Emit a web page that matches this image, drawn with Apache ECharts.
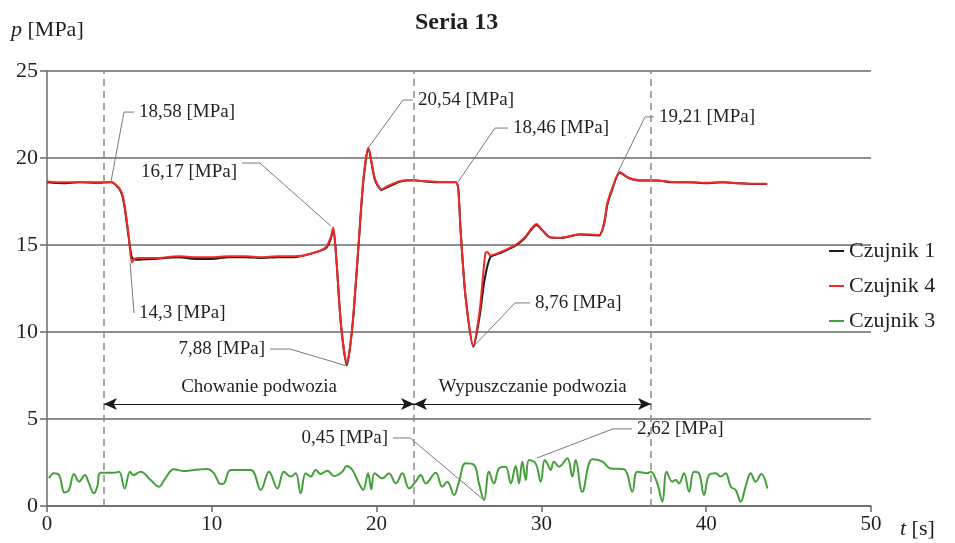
<!DOCTYPE html>
<html>
<head>
<meta charset="utf-8">
<script src="https://cdn.jsdelivr.net/npm/echarts@6/dist/echarts.min.js"></script>
<style>
  html, body { margin: 0; padding: 0; background: #fff; }
  #chart { width: 955px; height: 543px; }
</style>
</head>
<body>
<div id="chart"></div>
<script>
// Czujnik 1 (black)
const t1 = [0,1,2,3,3.9,4.4,4.65,4.95,5.15,5.4,6.5,8,9,10,11,12,13,14,15,16,16.9,17.2,17.37,17.55,17.85,18.2,18.4,18.6,18.9,19.2,19.5,19.9,20.3,20.6,21.4,22.2,23,24,24.8,24.95,25.1,25.4,25.87,26.25,26.55,26.9,27.4,27.9,28.5,29.0,29.7,30.1,30.5,31.2,32.3,33.5,33.8,34.0,34.3,34.75,35.3,36,37,38,39,40,41,42,43,43.7]
const p1 = [18.6,18.55,18.6,18.58,18.6,18.2,17.5,15.5,14.3,14.15,14.2,14.3,14.2,14.2,14.3,14.3,14.25,14.3,14.3,14.5,14.8,15.3,15.95,14.3,10.3,8.1,9.2,11,14.9,18.7,20.55,18.74,18.16,18.3,18.64,18.72,18.65,18.6,18.6,18.3,15.8,12,9.15,10.9,13,14.3,14.5,14.7,15.0,15.4,16.15,15.8,15.45,15.4,15.6,15.55,16.2,17.3,18.2,19.15,18.85,18.7,18.7,18.6,18.6,18.55,18.6,18.55,18.5,18.5]

// Czujnik 4 (red)
const t4 = [0,1,2,3,3.9,4.4,4.65,4.95,5.15,5.3,5.6,6.5,8,9,10,11,12,13,14,15,16,16.9,17.2,17.37,17.55,17.85,18.2,18.4,18.6,18.9,19.2,19.5,19.9,20.3,20.6,21.4,22.2,23,24,24.8,24.95,25.1,25.4,25.87,26.25,26.6,26.72,26.9,27.4,27.9,28.5,29.0,29.7,30.1,30.5,31.2,32.3,33.5,33.8,34.0,34.3,34.75,35.3,36,37,38,39,40,41,42,43,43.7]
const p4 = [18.65,18.6,18.62,18.6,18.62,18.25,17.6,15.6,14.0,14.2,14.25,14.25,14.35,14.3,14.3,14.35,14.35,14.3,14.35,14.35,14.5,14.85,15.4,16.0,14.3,10.3,8.2,9.2,11.1,15,18.8,20.6,18.8,18.2,18.35,18.66,18.72,18.66,18.62,18.62,18.3,15.8,12,9.2,11.2,14.55,14.6,14.4,14.55,14.75,15.05,15.45,16.2,15.8,15.45,15.42,15.62,15.58,16.25,17.4,18.25,19.2,18.85,18.72,18.7,18.62,18.6,18.58,18.6,18.55,18.52,18.52]

// Czujnik 3 (green) [t, p]
const czujnik3 = [
  [0.12,1.59],[0.42,1.88],[0.73,1.78],[1.07,0.77],[1.33,0.92],[1.64,1.84],[1.94,1.40],[2.29,1.78],[2.55,1.30],[2.85,0.73],
  [3.05,1.11],[3.26,1.91],[4.07,1.91],[4.37,1.97],[4.71,1.01],[5.04,1.97],[5.24,1.78],[5.68,1.97],[6.29,1.49],[6.80,1.11],
  [7.15,1.55],[7.71,2.11],[8.31,2.01],[8.92,2.07],[9.73,2.13],[10.13,1.88],[10.54,1.26],[10.74,1.30],[11.15,2.07],[12.36,2.07],
  [12.97,0.92],[13.47,1.97],[13.98,1.01],[14.38,1.97],[14.79,1.69],[15.09,1.88],[15.39,0.73],[15.70,1.88],[16.0,1.69],[16.3,2.07],
  [16.61,1.84],[17.01,2.03],[17.42,1.72],[17.92,1.97],[18.18,2.30],[18.53,2.07],[18.93,1.30],[19.19,0.92],[19.48,1.88],[19.68,0.96],
  [19.88,1.88],[20.35,1.59],[20.75,1.88],[21.16,1.30],[21.56,1.88],[21.97,1.01],[22.37,1.40],[22.68,1.78],[22.98,1.30],[23.59,1.91],
  [23.99,1.11],[24.29,1.40],[24.70,0.63],[25.0,1.40],[25.40,2.45],[25.91,2.36],[26.21,1.30],[26.52,0.34],[26.82,1.97],[27.12,1.30],
  [27.43,2.16],[27.83,2.26],[28.14,1.30],[28.44,2.30],[28.64,1.30],[28.84,2.55],[29.05,1.50],[29.25,2.64],[29.65,2.45],[29.96,1.40],
  [30.20,2.64],[30.40,2.36],[30.56,2.07],[30.76,2.55],[31.07,2.26],[31.57,2.74],[31.88,1.69],[32.08,2.64],[32.48,0.82],[33.09,2.68],
  [33.70,2.55],[34.20,2.16],[35.01,2.11],[35.52,0.82],[35.82,1.97],[36.43,1.88],[36.63,1.97],[37.03,1.30],[37.34,0.25],[37.60,1.97],
  [37.94,1.40],[38.15,1.49],[38.35,1.30],[38.65,1.88],[38.96,0.82],[39.26,1.97],[39.56,1.88],[39.87,0.63],[40.17,1.78],[40.58,1.88],
  [40.88,1.69],[41.18,1.88],[41.49,1.11],[41.79,0.92],[42.09,0.25],[42.39,1.11],[42.70,1.88],[43.0,1.40],[43.34,1.84],[43.71,1.01]
]

const xTicks = [0, 10, 20, 30, 40, 50]
const yTicks = [0, 5, 10, 15, 20, 25]

// phase boundaries [s]
const phaseTimes = [3.46, 22.27, 36.65]
const phaseNames = ['Chowanie podwozia', 'Wypuszczanie podwozia']

// callouts: value text, curve point, elbow, line end (data coords)
const notes = [
  { text: '18,58 [MPa]', pts: [[3.88, 18.62], [4.67, 22.64], [5.28, 22.64]], side: 'right' },
  { text: '16,17 [MPa]', pts: [[17.23, 16.09], [12.92, 19.71], [11.83, 19.71]], side: 'left', dy: 9 },
  { text: '20,54 [MPa]', pts: [[19.48, 20.57], [21.6, 23.33], [22.21, 23.33]], side: 'right' },
  { text: '18,46 [MPa]', pts: [[24.94, 18.62], [27.18, 21.72], [27.97, 21.72]], side: 'right' },
  { text: '19,21 [MPa]', pts: [[34.65, 19.2], [36.29, 22.36], [36.83, 22.36]], side: 'right' },
  { text: '14,3 [MPa]', pts: [[5.04, 13.97], [5.28, 11.09], [5.28, 11.09]], side: 'right' },
  { text: '7,88 [MPa]', pts: [[18.2, 8.05], [14.75, 9.02], [13.53, 9.02]], side: 'left' },
  { text: '8,76 [MPa]', pts: [[25.85, 9.14], [28.4, 11.67], [29.31, 11.67]], side: 'right' },
  { text: '0,45 [MPa]', pts: [[26.52, 0.34], [22.03, 3.91], [21.0, 3.91]], side: 'left' },
  { text: '2,62 [MPa]', pts: [[29.73, 2.76], [34.34, 4.43], [35.5, 4.43]], side: 'right' }
]

const FONT = 'Liberation Serif'
const TXT = '#231f20'
const GRID_COLOR = '#6a6a6a'

function zip(ts, ps) {
  return ts.map((t, i) => [t, ps[i]])
}

function noteSeries(note) {
  const last = note.pts.length - 1
  return {
    type: 'line',
    silent: true,
    symbol: 'circle',
    symbolSize: 0,
    showSymbol: true,
    z: 1,
    animation: false,
    lineStyle: { color: '#7a7a7a', width: 1 },
    data: note.pts.map((p, i) => {
      if (i !== last) return { value: p }
      return {
        value: p,
        label: {
          show: true,
          position: note.side,
          distance: 5,
          offset: [0, note.dy || 0],
          formatter: note.text,
          color: TXT,
          fontFamily: FONT,
          fontSize: 19
        }
      }
    })
  }
}

function getOption() {
  const series = [
    {
      name: 'Czujnik 1',
      type: 'line',
      data: zip(t1, p1),
      showSymbol: false,
      smooth: 0.25,
      color: '#1a1a1a',
      lineStyle: { width: 2 },
      z: 3
    },
    {
      name: 'Czujnik 4',
      type: 'line',
      data: zip(t4, p4),
      showSymbol: false,
      smooth: 0.25,
      color: '#ee2b26',
      lineStyle: { width: 2 },
      z: 4
    },
    {
      name: 'Czujnik 3',
      type: 'line',
      data: czujnik3,
      showSymbol: false,
      smooth: 0.4,
      color: '#43a03a',
      lineStyle: { width: 2 },
      z: 3
    },
    {
      type: 'line',
      data: [],
      silent: true,
      markLine: {
        silent: true,
        symbol: ['none', 'none'],
        animation: false,
        label: { show: false },
        lineStyle: { color: '#8a8a8a', type: [7, 5], width: 1.5 },
        data: phaseTimes.map(t => ({ xAxis: t }))
      }
    },
    {
      type: 'line',
      data: [],
      silent: true,
      markLine: {
        silent: true,
        symbol: ['arrow', 'arrow'],
        symbolSize: [9, 13],
        animation: false,
        lineStyle: { color: '#1a1a1a', type: 'solid', width: 1 },
        label: {
          show: true,
          position: 'middle',
          distance: 8,
          color: TXT,
          fontFamily: FONT,
          fontSize: 19
        },
        data: phaseNames.map((name, i) => [
          { coord: [phaseTimes[i], 5.86], name: name },
          { coord: [phaseTimes[i + 1], 5.86] }
        ])
      }
    }
  ]
  notes.forEach(n => series.push(noteSeries(n)))

  return {
    animation: false,
    backgroundColor: '#fff',
    textStyle: { fontFamily: FONT, color: TXT },
    title: [
      {
        text: 'Seria 13',
        left: 410,
        top: 6,
        textStyle: { fontFamily: FONT, fontWeight: 'bold', fontSize: 24, color: TXT }
      },
      {
        text: '{i|p} [MPa]',
        left: 6,
        top: 14,
        textStyle: {
          fontFamily: FONT, fontWeight: 'normal', fontSize: 22, color: TXT,
          rich: { i: { fontStyle: 'italic', fontFamily: FONT, fontSize: 22, color: TXT } }
        }
      },
      {
        text: '{i|t} [s]',
        left: 895,
        top: 513,
        textStyle: {
          fontFamily: FONT, fontWeight: 'normal', fontSize: 22, color: TXT,
          rich: { i: { fontStyle: 'italic', fontFamily: FONT, fontSize: 22, color: TXT } }
        }
      }
    ],
    legend: {
      data: ['Czujnik 1', 'Czujnik 4', 'Czujnik 3'],
      orient: 'vertical',
      left: 824,
      top: 235,
      icon: 'rect',
      itemWidth: 15,
      itemHeight: 2,
      itemGap: 13,
      textStyle: { fontFamily: FONT, fontSize: 22, color: TXT }
    },
    grid: {
      left: 47,
      right: 84,
      top: 71,
      bottom: 37,
      containLabel: false
    },
    xAxis: {
      type: 'value',
      min: xTicks[0],
      max: xTicks[xTicks.length - 1],
      interval: 10,
      axisLine: { show: true, lineStyle: { color: GRID_COLOR, width: 1.5 } },
      axisTick: { show: true, length: 6, lineStyle: { color: GRID_COLOR, width: 1.5 } },
      axisLabel: { color: TXT, fontFamily: FONT, fontSize: 21, margin: 8 },
      splitLine: { show: false }
    },
    yAxis: {
      type: 'value',
      min: yTicks[0],
      max: yTicks[yTicks.length - 1],
      interval: 5,
      axisLine: { show: true, lineStyle: { color: GRID_COLOR, width: 1.5 } },
      axisTick: { show: true, length: 7, lineStyle: { color: GRID_COLOR, width: 1.5 } },
      axisLabel: { color: TXT, fontFamily: FONT, fontSize: 22, margin: 9 },
      splitLine: { show: true, lineStyle: { color: GRID_COLOR, width: 1.5 } }
    },
    series: series
  }
}

const chart = echarts.init(document.getElementById('chart'))
chart.setOption(getOption())
</script>
</body>
</html>
